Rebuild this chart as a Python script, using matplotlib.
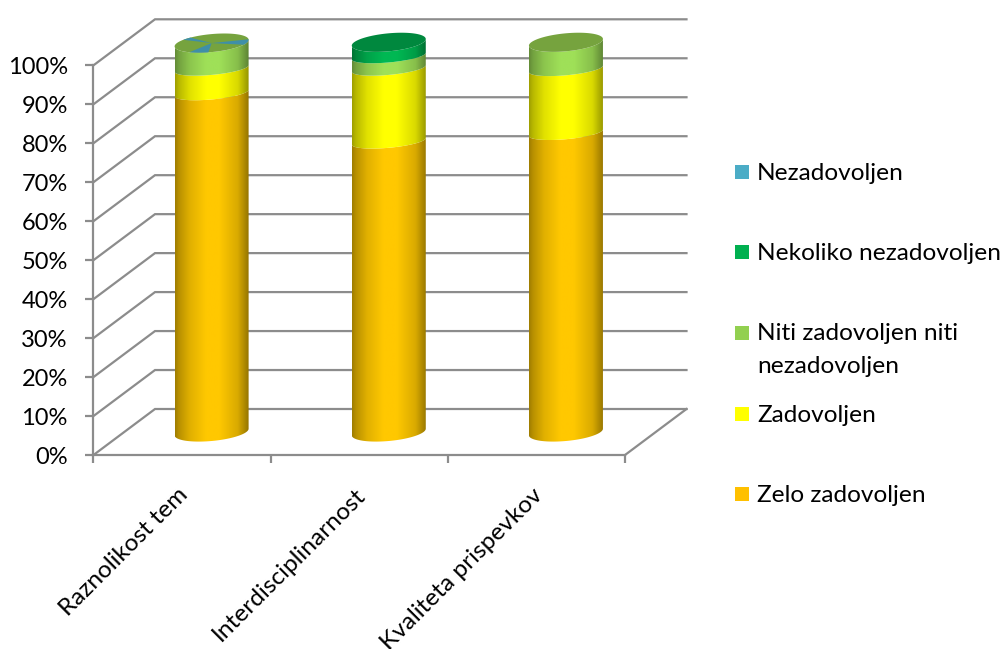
import numpy as np
import matplotlib
matplotlib.use("Agg")
import matplotlib.pyplot as plt
from matplotlib.colors import to_rgb
from matplotlib.patches import Polygon, Rectangle
from matplotlib.transforms import IdentityTransform, ScaledTranslation

plt.rcParams['font.family'] = ['Lato', 'DejaVu Sans']

categories = ["Raznolikost tem", "Interdisciplinarnost", "Kvaliteta prispevkov"]
y_ticks = [0, 10, 20, 30, 40, 50, 60, 70, 80, 90, 100]
y_labels = ["0%", "10%", "20%", "30%", "40%", "50%", "60%", "70%", "80%", "90%", "100%"]

zelo_zadovoljen = [87.0, 74.6, 76.8]
zadovoljen = [6.3, 18.7, 16.4]
niti = [6.5, 3.2, 6.8]
nekoliko_nezadovoljen = [0.0, 3.5, 0.0]
nezadovoljen = [0.2, 0.0, 0.0]

series = [zelo_zadovoljen, zadovoljen, niti, nekoliko_nezadovoljen, nezadovoljen]
side_colors = ["#ffc800", "#ffff00", "#9fe058", "#00b853", "#4bacc6"]
top_colors = ["#c89b00", "#c8c800", "#76a33e", "#00883e", "#3f8fa8"]
legend_colors = {"Nezadovoljen": "#4bacc6", "Nekoliko nezadovoljen": "#00b050",
                 "Niti zadovoljen niti\nnezadovoljen": "#92d050",
                 "Zadovoljen": "#ffff00", "Zelo zadovoljen": "#ffc000"}
legend_rows = [172, 252, 333, 414, 494]
GRID = "#8c8c8c"
W, H = 1003, 649
FS = 17.6

fig = plt.figure(figsize=(W / 100, H / 100), dpi=100)
ax = fig.add_axes([93.5 / W, 1 - 455 / H, (625 - 93.5) / W, (455 - 65.3) / H])
ax.patch.set_alpha(0)

px_x = (625 - 93.5) / 3
px_y = (455 - 65.3) / 100
DX = 61.5 / px_x
DY = 46 / px_y
A = 37 / px_x
B_END = 9.0 / px_y
B_INNER = 6.5 / px_y
TILT = (3.3 / px_y) / A


def ell(cx, cy, t, b):
    return cx + A * np.cos(t), cy + A * np.cos(t) * TILT + b * np.sin(t)


# walls and floor
for v in y_ticks:
    ax.plot([0, DX, 3 + DX], [v, v + DY, v + DY], color=GRID, lw=1.6, clip_on=False, zorder=1,
            solid_joinstyle="miter")
ax.plot([3, 3 + DX], [0, DY], color=GRID, lw=1.6, clip_on=False, zorder=1)

# cylinders
t_front = np.linspace(np.pi, 2 * np.pi, 80)
t_back = t_front[::-1]
pos = np.linspace(0, 1, 256)
shade = np.interp(pos, [0, 0.05, 0.2, 0.42, 0.6, 0.85, 1],
                  [0.62, 0.72, 0.88, 1.0, 1.0, 0.85, 0.58])
for i in range(len(categories)):
    cx = i + 0.5 + 0.48 * DX
    base = 0.5 * DY
    total = sum(vals[i] for vals in series if vals[i] >= 0.5)
    bottom = 0.0
    top_color = None
    for vals, side, top in zip(series, side_colors, top_colors):
        v = vals[i]
        if v < 0.5:
            continue
        b0 = B_END if bottom == 0 else B_INNER
        b1 = B_END if abs(bottom + v - total) < 1e-6 else B_INNER
        x0, y0 = ell(cx, base + bottom, t_front, b0)
        x1, y1 = ell(cx, base + bottom + v, t_back, b1)
        poly = np.column_stack([np.r_[x0, x1], np.r_[y0, y1]])
        rgb = np.outer(shade, to_rgb(side))[None, :, :]
        im = ax.imshow(rgb, extent=[cx - A, cx + A, base + bottom - 6, base + bottom + v + 6],
                       aspect="auto", zorder=3, interpolation="bilinear")
        patch = Polygon(poly, closed=True, transform=ax.transData, fc="none", ec="none")
        im.set_clip_path(patch)
        im.set_clip_box(fig.bbox)
        bottom += v
        top_color = top
    t_all = np.linspace(0, 2 * np.pi, 120)
    ex, ey = ell(cx, base + bottom, t_all, B_END)
    ax.fill(ex, ey, color=top_color, zorder=4, clip_on=False, lw=0)
    if nezadovoljen[i] > 0:
        for a0, a1 in [(125, 140), (233, 265), (-30, 3)]:
            t = np.radians(np.linspace(a0, a1, 12))
            wx, wy = ell(cx, base + bottom, t, B_END)
            ax.fill(np.r_[cx, wx], np.r_[base + bottom, wy], color=top_colors[4],
                    zorder=5, clip_on=False, lw=0)

# axes
ax.set_xlim(0, 3)
ax.set_ylim(0, 100)
for s in ("top", "right"):
    ax.spines[s].set_visible(False)
for s in ("left", "bottom"):
    ax.spines[s].set_color(GRID)
    ax.spines[s].set_linewidth(1.6)
ax.set_xticks([0, 1, 2, 3])
ax.set_xticklabels([])
ax.set_yticks(y_ticks)
ax.set_yticklabels(y_labels, fontsize=17, color="black")
ax.tick_params(axis="both", which="major", color=GRID, width=1.6, length=5.5)
ax.tick_params(axis="y", which="major", pad=13)
ax.set_xticks([0.5, 1.5, 2.5], minor=True)
ax.set_xticklabels(categories, minor=True, rotation=45, ha="right", va="top",
                   rotation_mode="anchor", fontsize=FS)
ax.tick_params(axis="x", which="minor", length=0, pad=21)
shift = ScaledTranslation(-5 / 100, 0, fig.dpi_scale_trans)
for lab in ax.get_xticklabels(minor=True):
    lab.set_transform(lab.get_transform() + shift)

# legend
for (label, color), row in zip(legend_colors.items(), legend_rows):
    fig.add_artist(Rectangle((735, H - row - 7), 14, 14, transform=IdentityTransform(),
                             fc=color, ec="none"))
    fig.text(757 / W, 1 - (row - 9.5) / H, label, fontsize=FS, color="black", va="top",
             ha="left", linespacing=1.65)

fig.savefig("out.png", dpi=100)
